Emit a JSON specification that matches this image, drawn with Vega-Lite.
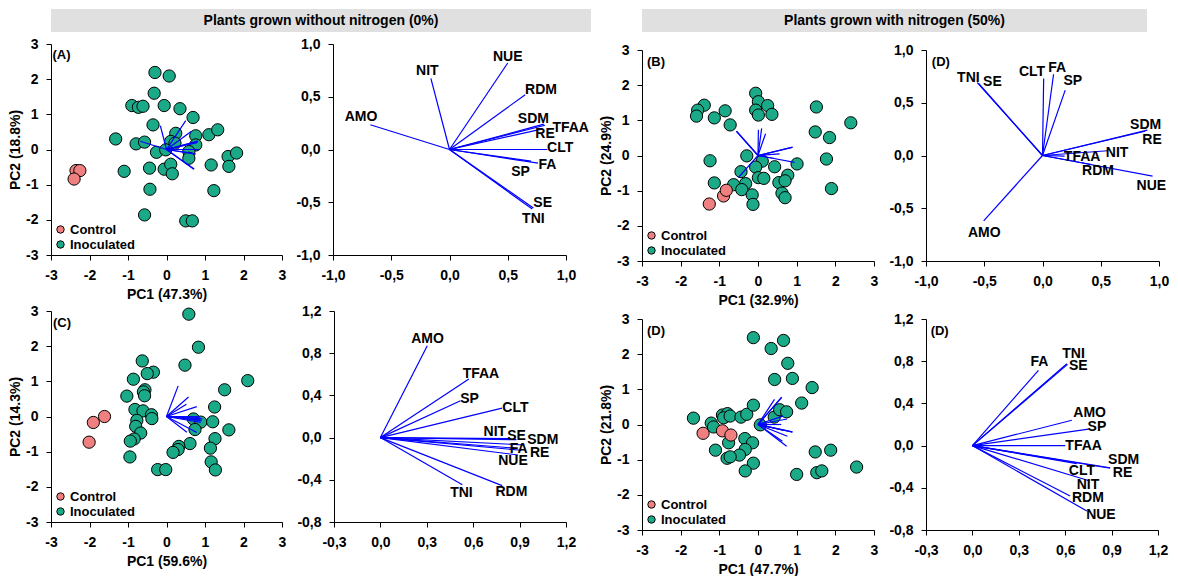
{
  "$schema": "https://vega.github.io/schema/vega-lite/v6.json",
  "padding": {"left": 8, "top": 9, "right": 0, "bottom": 0},
  "background": "white",
  "config": {
    "font": "Liberation Sans",
    "view": {"stroke": null},
    "locale": {"number": {"decimal": ",", "thousands": ".", "grouping": [3], "currency": ["", ""], "minus": "-"}},
    "axis": {"grid": false, "domainColor": "black", "tickColor": "black", "labelColor": "black", "titleColor": "black", "tickSize": 5, "labelPadding": 8, "labelFont": "Liberation Sans", "labelFontSize": 14, "labelFontWeight": "bold", "titleFont": "Liberation Sans", "titleFontSize": 14, "titleFontWeight": "bold", "labelFlush": false, "labelOverlap": false, "tickCount": 20},
    "axisX": {"titlePadding": 5},
    "axisY": {"titlePadding": 3},
    "text": {"font": "Liberation Sans", "fontWeight": "bold", "fontSize": 14, "color": "black"},
    "legend": {"orient": "bottom-left", "offset": 3, "padding": 0, "rowPadding": 1, "symbolSize": 55, "symbolType": "circle", "symbolStrokeColor": "black", "symbolStrokeWidth": 1, "labelFont": "Liberation Sans", "labelFontSize": 13, "labelFontWeight": "bold", "labelColor": "black", "labelOffset": 3}
  },
  "datasets": {
    "scoresA": [
      {"group": "Inoculated", "pc1": -0.30, "pc2": 2.19}, {"group": "Inoculated", "pc1": 0.07, "pc2": 2.09}, {"group": "Inoculated", "pc1": -0.32, "pc2": 1.60}, {"group": "Inoculated", "pc1": -0.90, "pc2": 1.25}, {"group": "Inoculated", "pc1": -0.73, "pc2": 1.20}, {"group": "Inoculated", "pc1": -0.61, "pc2": 1.23}, {"group": "Inoculated", "pc1": -0.06, "pc2": 1.25}, {"group": "Inoculated", "pc1": 0.35, "pc2": 1.16}, {"group": "Inoculated", "pc1": 0.69, "pc2": 0.91}, {"group": "Inoculated", "pc1": -1.32, "pc2": 0.30}, {"group": "Inoculated", "pc1": -0.35, "pc2": 0.70}, {"group": "Inoculated", "pc1": 0.24, "pc2": 0.46}, {"group": "Inoculated", "pc1": 0.76, "pc2": 0.39}, {"group": "Inoculated", "pc1": 1.10, "pc2": 0.42}, {"group": "Inoculated", "pc1": 1.33, "pc2": 0.56}, {"group": "Inoculated", "pc1": -0.79, "pc2": 0.16}, {"group": "Inoculated", "pc1": -0.57, "pc2": 0.21}, {"group": "Inoculated", "pc1": 0.11, "pc2": 0.23}, {"group": "Inoculated", "pc1": 0.22, "pc2": 0.18}, {"group": "Inoculated", "pc1": 0.76, "pc2": 0.13}, {"group": "Inoculated", "pc1": -0.26, "pc2": -0.08}, {"group": "Inoculated", "pc1": -0.02, "pc2": -0.01}, {"group": "Inoculated", "pc1": 0.58, "pc2": -0.06}, {"group": "Inoculated", "pc1": 0.58, "pc2": -0.25}, {"group": "Inoculated", "pc1": 1.60, "pc2": -0.20}, {"group": "Inoculated", "pc1": 1.82, "pc2": -0.10}, {"group": "Inoculated", "pc1": 1.62, "pc2": -0.48}, {"group": "Inoculated", "pc1": 1.16, "pc2": -0.44}, {"group": "Inoculated", "pc1": -1.10, "pc2": -0.62}, {"group": "Inoculated", "pc1": -0.44, "pc2": -0.53}, {"group": "Inoculated", "pc1": -0.06, "pc2": -0.56}, {"group": "Inoculated", "pc1": 0.11, "pc2": -0.42}, {"group": "Inoculated", "pc1": 0.15, "pc2": -0.69}, {"group": "Inoculated", "pc1": -0.43, "pc2": -1.13}, {"group": "Inoculated", "pc1": 1.23, "pc2": -1.17}, {"group": "Inoculated", "pc1": -0.57, "pc2": -1.86}, {"group": "Inoculated", "pc1": 0.50, "pc2": -2.03}, {"group": "Inoculated", "pc1": 0.67, "pc2": -2.03},
      {"group": "Control", "pc1": -2.35, "pc2": -0.60}, {"group": "Control", "pc1": -2.25, "pc2": -0.60}, {"group": "Control", "pc1": -2.40, "pc2": -0.84}
    ],
    "scoresB": [
      {"group": "Inoculated", "pc1": -0.06, "pc2": 1.77}, {"group": "Inoculated", "pc1": 0.01, "pc2": 1.53}, {"group": "Inoculated", "pc1": -0.06, "pc2": 1.29}, {"group": "Inoculated", "pc1": 0.01, "pc2": 1.15}, {"group": "Inoculated", "pc1": 0.25, "pc2": 1.42}, {"group": "Inoculated", "pc1": 0.36, "pc2": 1.17}, {"group": "Inoculated", "pc1": -1.39, "pc2": 1.43}, {"group": "Inoculated", "pc1": -1.56, "pc2": 1.29}, {"group": "Inoculated", "pc1": -1.59, "pc2": 1.12}, {"group": "Inoculated", "pc1": -1.13, "pc2": 1.07}, {"group": "Inoculated", "pc1": -0.85, "pc2": 1.27}, {"group": "Inoculated", "pc1": -0.72, "pc2": 0.87}, {"group": "Inoculated", "pc1": 1.51, "pc2": 1.38}, {"group": "Inoculated", "pc1": 2.40, "pc2": 0.93}, {"group": "Inoculated", "pc1": 1.48, "pc2": 0.67}, {"group": "Inoculated", "pc1": 1.85, "pc2": 0.51}, {"group": "Inoculated", "pc1": 1.77, "pc2": -0.10}, {"group": "Inoculated", "pc1": 1.90, "pc2": -0.94}, {"group": "Inoculated", "pc1": -1.24, "pc2": -0.15}, {"group": "Inoculated", "pc1": -0.29, "pc2": -0.01}, {"group": "Inoculated", "pc1": 0.11, "pc2": -0.16}, {"group": "Inoculated", "pc1": -0.06, "pc2": -0.33}, {"group": "Inoculated", "pc1": 0.43, "pc2": -0.32}, {"group": "Inoculated", "pc1": 1.01, "pc2": -0.24}, {"group": "Inoculated", "pc1": -0.44, "pc2": -0.46}, {"group": "Inoculated", "pc1": -1.13, "pc2": -0.78}, {"group": "Inoculated", "pc1": -0.63, "pc2": -0.83}, {"group": "Inoculated", "pc1": -0.32, "pc2": -0.80}, {"group": "Inoculated", "pc1": -0.42, "pc2": -0.97}, {"group": "Inoculated", "pc1": 0.01, "pc2": -0.63}, {"group": "Inoculated", "pc1": 0.15, "pc2": -0.65}, {"group": "Inoculated", "pc1": 0.54, "pc2": -0.77}, {"group": "Inoculated", "pc1": 0.77, "pc2": -0.56}, {"group": "Inoculated", "pc1": 0.70, "pc2": -0.72}, {"group": "Inoculated", "pc1": 0.62, "pc2": -1.07}, {"group": "Inoculated", "pc1": 0.70, "pc2": -1.20}, {"group": "Inoculated", "pc1": -0.15, "pc2": -1.12}, {"group": "Inoculated", "pc1": -0.13, "pc2": -1.39},
      {"group": "Control", "pc1": -1.26, "pc2": -1.38}, {"group": "Control", "pc1": -0.89, "pc2": -1.15}, {"group": "Control", "pc1": -0.82, "pc2": -0.99}
    ],
    "scoresC": [
      {"group": "Inoculated", "pc1": 0.58, "pc2": 2.91}, {"group": "Inoculated", "pc1": 0.83, "pc2": 1.97}, {"group": "Inoculated", "pc1": 0.48, "pc2": 1.46}, {"group": "Inoculated", "pc1": -0.63, "pc2": 1.58}, {"group": "Inoculated", "pc1": -0.34, "pc2": 1.26}, {"group": "Inoculated", "pc1": -0.50, "pc2": 1.22}, {"group": "Inoculated", "pc1": -0.86, "pc2": 1.06}, {"group": "Inoculated", "pc1": -0.56, "pc2": 0.76}, {"group": "Inoculated", "pc1": -0.60, "pc2": 0.70}, {"group": "Inoculated", "pc1": -0.57, "pc2": 0.59}, {"group": "Inoculated", "pc1": -1.03, "pc2": 0.58}, {"group": "Inoculated", "pc1": 2.11, "pc2": 1.02}, {"group": "Inoculated", "pc1": 1.51, "pc2": 0.76}, {"group": "Inoculated", "pc1": 1.25, "pc2": 0.27}, {"group": "Inoculated", "pc1": -0.82, "pc2": 0.20}, {"group": "Inoculated", "pc1": -0.61, "pc2": 0.16}, {"group": "Inoculated", "pc1": -0.39, "pc2": 0.05}, {"group": "Inoculated", "pc1": -0.38, "pc2": -0.06}, {"group": "Inoculated", "pc1": -0.77, "pc2": -0.11}, {"group": "Inoculated", "pc1": -0.80, "pc2": -0.28}, {"group": "Inoculated", "pc1": -0.67, "pc2": -0.47}, {"group": "Inoculated", "pc1": -0.84, "pc2": -0.64}, {"group": "Inoculated", "pc1": -0.94, "pc2": -0.70}, {"group": "Inoculated", "pc1": 0.70, "pc2": -0.07}, {"group": "Inoculated", "pc1": 0.89, "pc2": -0.16}, {"group": "Inoculated", "pc1": 0.74, "pc2": -0.37}, {"group": "Inoculated", "pc1": 1.20, "pc2": -0.15}, {"group": "Inoculated", "pc1": 1.62, "pc2": -0.38}, {"group": "Inoculated", "pc1": 1.26, "pc2": -0.63}, {"group": "Inoculated", "pc1": 1.14, "pc2": -0.90}, {"group": "Inoculated", "pc1": 1.16, "pc2": -1.29}, {"group": "Inoculated", "pc1": 1.27, "pc2": -1.52}, {"group": "Inoculated", "pc1": 0.61, "pc2": -0.77}, {"group": "Inoculated", "pc1": 0.32, "pc2": -0.85}, {"group": "Inoculated", "pc1": 0.30, "pc2": -0.94}, {"group": "Inoculated", "pc1": 0.17, "pc2": -1.02}, {"group": "Inoculated", "pc1": -0.95, "pc2": -1.15}, {"group": "Inoculated", "pc1": -0.23, "pc2": -1.51}, {"group": "Inoculated", "pc1": -0.02, "pc2": -1.51},
      {"group": "Control", "pc1": -1.61, "pc2": 0.00}, {"group": "Control", "pc1": -1.90, "pc2": -0.17}, {"group": "Control", "pc1": -2.01, "pc2": -0.73}
    ],
    "scoresD": [
      {"group": "Inoculated", "pc1": -0.12, "pc2": 2.47}, {"group": "Inoculated", "pc1": 0.66, "pc2": 2.39}, {"group": "Inoculated", "pc1": 0.34, "pc2": 2.16}, {"group": "Inoculated", "pc1": 0.77, "pc2": 1.74}, {"group": "Inoculated", "pc1": 0.43, "pc2": 1.28}, {"group": "Inoculated", "pc1": 0.89, "pc2": 1.31}, {"group": "Inoculated", "pc1": 1.40, "pc2": 1.05}, {"group": "Inoculated", "pc1": 1.13, "pc2": 0.61}, {"group": "Inoculated", "pc1": -1.67, "pc2": 0.18}, {"group": "Inoculated", "pc1": -1.21, "pc2": 0.04}, {"group": "Inoculated", "pc1": -1.15, "pc2": -0.07}, {"group": "Inoculated", "pc1": -0.92, "pc2": 0.27}, {"group": "Inoculated", "pc1": -0.79, "pc2": 0.31}, {"group": "Inoculated", "pc1": -0.89, "pc2": 0.19}, {"group": "Inoculated", "pc1": -0.72, "pc2": 0.24}, {"group": "Inoculated", "pc1": -0.44, "pc2": 0.21}, {"group": "Inoculated", "pc1": -0.29, "pc2": 0.29}, {"group": "Inoculated", "pc1": -0.12, "pc2": 0.55}, {"group": "Inoculated", "pc1": 0.06, "pc2": -0.01}, {"group": "Inoculated", "pc1": 0.42, "pc2": 0.21}, {"group": "Inoculated", "pc1": 0.56, "pc2": 0.42}, {"group": "Inoculated", "pc1": 0.74, "pc2": 0.36}, {"group": "Inoculated", "pc1": -1.10, "pc2": -0.73}, {"group": "Inoculated", "pc1": -0.76, "pc2": -0.52}, {"group": "Inoculated", "pc1": -0.34, "pc2": -0.40}, {"group": "Inoculated", "pc1": -0.14, "pc2": -0.52}, {"group": "Inoculated", "pc1": -0.33, "pc2": -0.71}, {"group": "Inoculated", "pc1": -0.48, "pc2": -0.87}, {"group": "Inoculated", "pc1": -0.80, "pc2": -0.96}, {"group": "Inoculated", "pc1": -0.72, "pc2": -0.92}, {"group": "Inoculated", "pc1": -0.12, "pc2": -1.10}, {"group": "Inoculated", "pc1": -0.33, "pc2": -1.32}, {"group": "Inoculated", "pc1": 1.48, "pc2": -0.78}, {"group": "Inoculated", "pc1": 1.88, "pc2": -0.73}, {"group": "Inoculated", "pc1": 2.55, "pc2": -1.21}, {"group": "Inoculated", "pc1": 1.00, "pc2": -1.42}, {"group": "Inoculated", "pc1": 1.52, "pc2": -1.37}, {"group": "Inoculated", "pc1": 1.65, "pc2": -1.32},
      {"group": "Control", "pc1": -1.42, "pc2": -0.25}, {"group": "Control", "pc1": -0.92, "pc2": -0.18}, {"group": "Control", "pc1": -0.70, "pc2": -0.30}
    ],
    "loadA": [
      {"v": "AMO", "pc1": -0.68, "pc2": 0.235, "lx": -0.76, "ly": 0.31},
      {"v": "NIT", "pc1": -0.16, "pc2": 0.675, "lx": -0.19, "ly": 0.74},
      {"v": "NUE", "pc1": 0.50, "pc2": 0.82, "lx": 0.50, "ly": 0.875},
      {"v": "RDM", "pc1": 0.65, "pc2": 0.52, "lx": 0.785, "ly": 0.56},
      {"v": "SDM", "pc1": 0.81, "pc2": 0.24, "lx": 0.72, "ly": 0.29},
      {"v": "TFAA", "pc1": 0.82, "pc2": 0.23, "lx": 1.04, "ly": 0.205},
      {"v": "RE", "pc1": 0.80, "pc2": 0.195, "lx": 0.82, "ly": 0.145},
      {"v": "CLT", "pc1": 0.84, "pc2": 0.0, "lx": 0.95, "ly": 0.01},
      {"v": "FA", "pc1": 0.76, "pc2": -0.13, "lx": 0.84, "ly": -0.15},
      {"v": "SP", "pc1": 0.70, "pc2": -0.11, "lx": 0.61, "ly": -0.215},
      {"v": "SE", "pc1": 0.72, "pc2": -0.555, "lx": 0.80, "ly": -0.51},
      {"v": "TNI", "pc1": 0.71, "pc2": -0.565, "lx": 0.72, "ly": -0.66}
    ],
    "loadB": [
      {"v": "TNI", "pc1": -0.56, "pc2": 0.69, "lx": -0.636, "ly": 0.73},
      {"v": "SE", "pc1": -0.55, "pc2": 0.685, "lx": -0.43, "ly": 0.70},
      {"v": "CLT", "pc1": 0.01, "pc2": 0.73, "lx": -0.09, "ly": 0.79},
      {"v": "FA", "pc1": 0.095, "pc2": 0.77, "lx": 0.125, "ly": 0.83},
      {"v": "SP", "pc1": 0.195, "pc2": 0.62, "lx": 0.26, "ly": 0.71},
      {"v": "SDM", "pc1": 0.90, "pc2": 0.24, "lx": 0.885, "ly": 0.29},
      {"v": "RE", "pc1": 0.88, "pc2": 0.23, "lx": 0.94, "ly": 0.145},
      {"v": "NIT", "pc1": 0.56, "pc2": 0.045, "lx": 0.64, "ly": 0.02},
      {"v": "TFAA", "pc1": 0.19, "pc2": -0.005, "lx": 0.34, "ly": -0.013},
      {"v": "RDM", "pc1": 0.42, "pc2": -0.085, "lx": 0.476, "ly": -0.15},
      {"v": "NUE", "pc1": 0.945, "pc2": -0.195, "lx": 0.934, "ly": -0.29},
      {"v": "AMO", "pc1": -0.505, "pc2": -0.62, "lx": -0.50, "ly": -0.73}
    ],
    "loadC": [
      {"v": "AMO", "pc1": 0.303, "pc2": 0.871, "lx": 0.305, "ly": 0.934},
      {"v": "TFAA", "pc1": 0.572, "pc2": 0.555, "lx": 0.65, "ly": 0.605},
      {"v": "SP", "pc1": 0.518, "pc2": 0.35, "lx": 0.576, "ly": 0.366},
      {"v": "CLT", "pc1": 0.787, "pc2": 0.28, "lx": 0.873, "ly": 0.28},
      {"v": "NIT", "pc1": 0.84, "pc2": -0.01, "lx": 0.74, "ly": 0.05},
      {"v": "SE", "pc1": 0.88, "pc2": -0.02, "lx": 0.88, "ly": 0.012},
      {"v": "SDM", "pc1": 0.93, "pc2": -0.07, "lx": 1.05, "ly": -0.026},
      {"v": "FA", "pc1": 0.87, "pc2": -0.10, "lx": 0.894, "ly": -0.105},
      {"v": "RE", "pc1": 0.91, "pc2": -0.12, "lx": 1.03, "ly": -0.146},
      {"v": "NUE", "pc1": 0.89, "pc2": -0.165, "lx": 0.857, "ly": -0.225},
      {"v": "RDM", "pc1": 0.787, "pc2": -0.455, "lx": 0.847, "ly": -0.519},
      {"v": "TNI", "pc1": 0.53, "pc2": -0.446, "lx": 0.524, "ly": -0.524}
    ],
    "loadD": [
      {"v": "FA", "pc1": 0.427, "pc2": 0.713, "lx": 0.434, "ly": 0.795},
      {"v": "TNI", "pc1": 0.611, "pc2": 0.776, "lx": 0.654, "ly": 0.87},
      {"v": "SE", "pc1": 0.615, "pc2": 0.77, "lx": 0.685, "ly": 0.755},
      {"v": "AMO", "pc1": 0.643, "pc2": 0.24, "lx": 0.758, "ly": 0.312},
      {"v": "SP", "pc1": 0.751, "pc2": 0.157, "lx": 0.805, "ly": 0.176},
      {"v": "TFAA", "pc1": 0.60, "pc2": 0.0, "lx": 0.719, "ly": -0.004},
      {"v": "SDM", "pc1": 0.891, "pc2": -0.21, "lx": 0.978, "ly": -0.14},
      {"v": "RE", "pc1": 0.89, "pc2": -0.215, "lx": 0.971, "ly": -0.26},
      {"v": "CLT", "pc1": 0.675, "pc2": -0.17, "lx": 0.708, "ly": -0.24},
      {"v": "NIT", "pc1": 0.76, "pc2": -0.336, "lx": 0.747, "ly": -0.372},
      {"v": "RDM", "pc1": 0.632, "pc2": -0.478, "lx": 0.747, "ly": -0.497},
      {"v": "NUE", "pc1": 0.74, "pc2": -0.62, "lx": 0.831, "ly": -0.658}
    ]
  },
  "spacing": 8,
  "hconcat": [
    {
      "spacing": 5,
      "vconcat": [
        {"width": 540, "height": 23, "view": {"fill": "#e0e0e0", "stroke": null}, "data": {"values": [{"t": "Plants grown without nitrogen (0%)"}]}, "mark": {"type": "text"}, "encoding": {"text": {"field": "t", "type": "nominal"}}},
        {
          "spacing": 3,
          "vconcat": [
            {
              "bounds": "flush", "spacing": 51,
              "resolve": {"scale": {"fill": "independent"}, "legend": {"fill": "independent"}},
              "hconcat": [
                {"width": 231, "height": 211, "layer": [
                  {"data": {"name": "scoresA"}, "mark": {"type": "point", "filled": true, "size": 150, "stroke": "black", "strokeWidth": 1, "opacity": 1},
                   "encoding": {
                     "x": {"field": "pc1", "type": "quantitative", "scale": {"domain": [-3, 3], "nice": false, "zero": false}, "axis": {"values": [-3, -2, -1, 0, 1, 2, 3], "format": "d", "title": "PC1 (47.3%)"}},
                     "y": {"field": "pc2", "type": "quantitative", "scale": {"domain": [-3, 3], "nice": false, "zero": false}, "axis": {"values": [-3, -2, -1, 0, 1, 2, 3], "format": "d", "title": "PC2 (18.8%)"}},
                     "fill": {"field": "group", "type": "nominal", "scale": {"domain": ["Control", "Inoculated"], "range": ["#f08080", "#1aaa88"]}, "legend": {"title": null}}}},
                  {"data": {"name": "loadA"}, "mark": {"type": "rule", "color": "#0000ff", "strokeWidth": 1.2},
                   "encoding": {"x": {"field": "pc1", "type": "quantitative"}, "y": {"field": "pc2", "type": "quantitative"}, "x2": {"datum": 0}, "y2": {"datum": 0}}},
                  {"data": {"values": [{"t": "(A)", "px": -2.96, "py": 2.69}]}, "mark": {"type": "text", "align": "left", "fontSize": 13},
                   "encoding": {"x": {"field": "px", "type": "quantitative"}, "y": {"field": "py", "type": "quantitative"}, "text": {"field": "t", "type": "nominal"}}}
                ]},
                {"width": 233, "height": 211, "data": {"name": "loadA"}, "layer": [
                  {"mark": {"type": "rule", "color": "#0000ff", "strokeWidth": 1.2},
                   "encoding": {
                     "x": {"field": "pc1", "type": "quantitative", "scale": {"domain": [-1, 1], "nice": false, "zero": false}, "axis": {"values": [-1, -0.5, 0, 0.5, 1], "format": ".1f", "title": null}},
                     "y": {"field": "pc2", "type": "quantitative", "scale": {"domain": [-1, 1], "nice": false, "zero": false}, "axis": {"values": [-1, -0.5, 0, 0.5, 1], "format": ".1f", "title": null}},
                     "x2": {"datum": 0}, "y2": {"datum": 0}}},
                  {"mark": {"type": "text"},
                   "encoding": {"x": {"field": "lx", "type": "quantitative"}, "y": {"field": "ly", "type": "quantitative"}, "text": {"field": "v", "type": "nominal"}}}
                ]}
              ]
            },
            {
              "bounds": "flush", "spacing": 52,
              "resolve": {"scale": {"fill": "independent"}, "legend": {"fill": "independent"}},
              "hconcat": [
                {"width": 231, "height": 211, "layer": [
                  {"data": {"name": "scoresC"}, "mark": {"type": "point", "filled": true, "size": 150, "stroke": "black", "strokeWidth": 1, "opacity": 1},
                   "encoding": {
                     "x": {"field": "pc1", "type": "quantitative", "scale": {"domain": [-3, 3], "nice": false, "zero": false}, "axis": {"values": [-3, -2, -1, 0, 1, 2, 3], "format": "d", "title": "PC1 (59.6%)"}},
                     "y": {"field": "pc2", "type": "quantitative", "scale": {"domain": [-3, 3], "nice": false, "zero": false}, "axis": {"values": [-3, -2, -1, 0, 1, 2, 3], "format": "d", "title": "PC2 (14.3%)"}},
                     "fill": {"field": "group", "type": "nominal", "scale": {"domain": ["Control", "Inoculated"], "range": ["#f08080", "#1aaa88"]}, "legend": {"title": null}}}},
                  {"data": {"name": "loadC"}, "mark": {"type": "rule", "color": "#0000ff", "strokeWidth": 1.2},
                   "encoding": {"x": {"field": "pc1", "type": "quantitative"}, "y": {"field": "pc2", "type": "quantitative"}, "x2": {"datum": 0}, "y2": {"datum": 0}}},
                  {"data": {"values": [{"t": "(C)", "px": -2.95, "py": 2.66}]}, "mark": {"type": "text", "align": "left", "fontSize": 13},
                   "encoding": {"x": {"field": "px", "type": "quantitative"}, "y": {"field": "py", "type": "quantitative"}, "text": {"field": "t", "type": "nominal"}}}
                ]},
                {"width": 232, "height": 211, "data": {"name": "loadC"}, "layer": [
                  {"mark": {"type": "rule", "color": "#0000ff", "strokeWidth": 1.2},
                   "encoding": {
                     "x": {"field": "pc1", "type": "quantitative", "scale": {"domain": [-0.3, 1.2], "nice": false, "zero": false}, "axis": {"values": [-0.3, 0, 0.3, 0.6, 0.9, 1.2], "format": ".1f", "title": null}},
                     "y": {"field": "pc2", "type": "quantitative", "scale": {"domain": [-0.8, 1.2], "nice": false, "zero": false}, "axis": {"values": [-0.8, -0.4, 0, 0.4, 0.8, 1.2], "format": ".1f", "title": null}},
                     "x2": {"datum": 0}, "y2": {"datum": 0}}},
                  {"mark": {"type": "text"},
                   "encoding": {"x": {"field": "lx", "type": "quantitative"}, "y": {"field": "ly", "type": "quantitative"}, "text": {"field": "v", "type": "nominal"}}}
                ]}
              ]
            }
          ]
        }
      ]
    },
    {
      "spacing": 11,
      "vconcat": [
        {"width": 505, "height": 23, "view": {"fill": "#e0e0e0", "stroke": null}, "data": {"values": [{"t": "Plants grown with nitrogen (50%)"}]}, "mark": {"type": "text"}, "encoding": {"text": {"field": "t", "type": "nominal"}}},
        {
          "spacing": 5,
          "vconcat": [
            {
              "bounds": "flush", "spacing": 52,
              "resolve": {"scale": {"fill": "independent"}, "legend": {"fill": "independent"}},
              "hconcat": [
                {"width": 232, "height": 211, "layer": [
                  {"data": {"name": "scoresB"}, "mark": {"type": "point", "filled": true, "size": 150, "stroke": "black", "strokeWidth": 1, "opacity": 1},
                   "encoding": {
                     "x": {"field": "pc1", "type": "quantitative", "scale": {"domain": [-3, 3], "nice": false, "zero": false}, "axis": {"values": [-3, -2, -1, 0, 1, 2, 3], "format": "d", "title": "PC1 (32.9%)"}},
                     "y": {"field": "pc2", "type": "quantitative", "scale": {"domain": [-3, 3], "nice": false, "zero": false}, "axis": {"values": [-3, -2, -1, 0, 1, 2, 3], "format": "d", "title": "PC2 (24.9%)"}},
                     "fill": {"field": "group", "type": "nominal", "scale": {"domain": ["Control", "Inoculated"], "range": ["#f08080", "#1aaa88"]}, "legend": {"title": null}}}},
                  {"data": {"name": "loadB"}, "mark": {"type": "rule", "color": "#0000ff", "strokeWidth": 1.2},
                   "encoding": {"x": {"field": "pc1", "type": "quantitative"}, "y": {"field": "pc2", "type": "quantitative"}, "x2": {"datum": 0}, "y2": {"datum": 0}}},
                  {"data": {"values": [{"t": "(B)", "px": -2.87, "py": 2.65}]}, "mark": {"type": "text", "align": "left", "fontSize": 13},
                   "encoding": {"x": {"field": "px", "type": "quantitative"}, "y": {"field": "py", "type": "quantitative"}, "text": {"field": "t", "type": "nominal"}}}
                ]},
                {"width": 233, "height": 211, "data": {"name": "loadB"}, "layer": [
                  {"mark": {"type": "rule", "color": "#0000ff", "strokeWidth": 1.2},
                   "encoding": {
                     "x": {"field": "pc1", "type": "quantitative", "scale": {"domain": [-1, 1], "nice": false, "zero": false}, "axis": {"values": [-1, -0.5, 0, 0.5, 1], "format": ".1f", "title": null}},
                     "y": {"field": "pc2", "type": "quantitative", "scale": {"domain": [-1, 1], "nice": false, "zero": false}, "axis": {"values": [-1, -0.5, 0, 0.5, 1], "format": ".1f", "title": null}},
                     "x2": {"datum": 0}, "y2": {"datum": 0}}},
                  {"mark": {"type": "text"},
                   "encoding": {"x": {"field": "lx", "type": "quantitative"}, "y": {"field": "ly", "type": "quantitative"}, "text": {"field": "v", "type": "nominal"}}},
                  {"data": {"values": [{"t": "(D)", "px": -0.95, "py": 0.89}]}, "mark": {"type": "text", "align": "left", "fontSize": 13},
                   "encoding": {"x": {"field": "px", "type": "quantitative"}, "y": {"field": "py", "type": "quantitative"}, "text": {"field": "t", "type": "nominal"}}}
                ]}
              ]
            },
            {
              "bounds": "flush", "spacing": 52,
              "resolve": {"scale": {"fill": "independent"}, "legend": {"fill": "independent"}},
              "hconcat": [
                {"width": 232, "height": 211, "layer": [
                  {"data": {"name": "scoresD"}, "mark": {"type": "point", "filled": true, "size": 150, "stroke": "black", "strokeWidth": 1, "opacity": 1},
                   "encoding": {
                     "x": {"field": "pc1", "type": "quantitative", "scale": {"domain": [-3, 3], "nice": false, "zero": false}, "axis": {"values": [-3, -2, -1, 0, 1, 2, 3], "format": "d", "title": "PC1 (47.7%)"}},
                     "y": {"field": "pc2", "type": "quantitative", "scale": {"domain": [-3, 3], "nice": false, "zero": false}, "axis": {"values": [-3, -2, -1, 0, 1, 2, 3], "format": "d", "title": "PC2 (21.8%)"}},
                     "fill": {"field": "group", "type": "nominal", "scale": {"domain": ["Control", "Inoculated"], "range": ["#f08080", "#1aaa88"]}, "legend": {"title": null}}}},
                  {"data": {"name": "loadD"}, "mark": {"type": "rule", "color": "#0000ff", "strokeWidth": 1.2},
                   "encoding": {"x": {"field": "pc1", "type": "quantitative"}, "y": {"field": "pc2", "type": "quantitative"}, "x2": {"datum": 0}, "y2": {"datum": 0}}},
                  {"data": {"values": [{"t": "(D)", "px": -2.87, "py": 2.66}]}, "mark": {"type": "text", "align": "left", "fontSize": 13},
                   "encoding": {"x": {"field": "px", "type": "quantitative"}, "y": {"field": "py", "type": "quantitative"}, "text": {"field": "t", "type": "nominal"}}}
                ]},
                {"width": 232, "height": 211, "data": {"name": "loadD"}, "layer": [
                  {"mark": {"type": "rule", "color": "#0000ff", "strokeWidth": 1.2},
                   "encoding": {
                     "x": {"field": "pc1", "type": "quantitative", "scale": {"domain": [-0.3, 1.2], "nice": false, "zero": false}, "axis": {"values": [-0.3, 0, 0.3, 0.6, 0.9, 1.2], "format": ".1f", "title": null}},
                     "y": {"field": "pc2", "type": "quantitative", "scale": {"domain": [-0.8, 1.2], "nice": false, "zero": false}, "axis": {"values": [-0.8, -0.4, 0, 0.4, 0.8, 1.2], "format": ".1f", "title": null}},
                     "x2": {"datum": 0}, "y2": {"datum": 0}}},
                  {"mark": {"type": "text"},
                   "encoding": {"x": {"field": "lx", "type": "quantitative"}, "y": {"field": "ly", "type": "quantitative"}, "text": {"field": "v", "type": "nominal"}}},
                  {"data": {"values": [{"t": "(D)", "px": -0.27, "py": 1.09}]}, "mark": {"type": "text", "align": "left", "fontSize": 13},
                   "encoding": {"x": {"field": "px", "type": "quantitative"}, "y": {"field": "py", "type": "quantitative"}, "text": {"field": "t", "type": "nominal"}}}
                ]}
              ]
            }
          ]
        }
      ]
    }
  ]
}
